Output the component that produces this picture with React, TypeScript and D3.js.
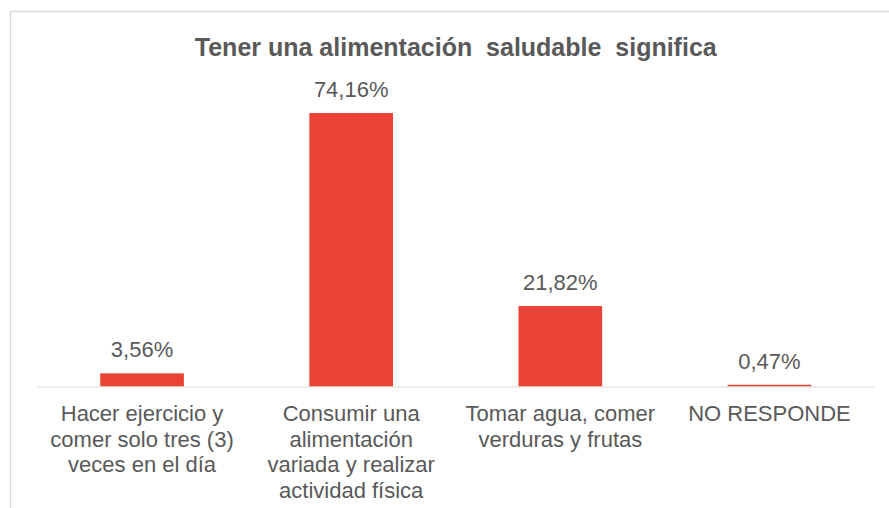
import React, { useEffect, useRef } from 'react';
import * as d3 from 'd3';

const categories = ['hacer', 'consumir', 'tomar', 'nr'];
const categoryLines = [
    ['Hacer ejercicio y', 'comer solo tres (3)', 'veces en el día'],
    ['Consumir una', 'alimentación', 'variada y realizar', 'actividad física'],
    ['Tomar agua, comer', 'verduras y frutas'],
    ['NO RESPONDE'],
];
const values = [3.56, 74.16, 21.82, 0.47];
const valueLabels = ['3,56%', '74,16%', '21,82%', '0,47%'];
const title = 'Tener una alimentación\u00a0 saludable\u00a0 significa';

const W = 889;
const H = 508;
const FONT = '"Liberation Sans", Arial, sans-serif';
const TEXT = '#595959';
const RED = '#EA4335';

const App = () => {
    const ref = useRef<SVGSVGElement | null>(null);

    useEffect(() => {
        const svg = d3.select(ref.current);
        svg.selectAll('*').remove();

        // chart area frame (cut off at right and bottom)
        svg.append('rect')
            .attr('x', 10.5)
            .attr('y', 11.5)
            .attr('width', 920)
            .attr('height', 540)
            .attr('fill', '#fff')
            .attr('stroke', '#D9D9D9')
            .attr('stroke-width', 1.5);

        const plot = { left: 37.5, right: 874, top: 91.5, bottom: 386.5 };

        const x = d3.scaleBand()
            .domain(categories)
            .range([plot.left, plot.right])
            .paddingInner(0.6)
            .paddingOuter(0.3);

        const y = d3.scaleLinear()
            .domain([0, 80])
            .range([plot.bottom, plot.top]);

        svg.append('text')
            .attr('x', (plot.left + plot.right) / 2)
            .attr('y', 56)
            .attr('text-anchor', 'middle')
            .attr('font-family', FONT)
            .attr('font-size', 25)
            .attr('font-weight', 'bold')
            .attr('fill', TEXT)
            .text(title);

        svg.selectAll('.bar')
            .data(values)
            .enter().append('rect')
            .attr('class', 'bar')
            .attr('x', (d, i) => x(categories[i])!)
            .attr('y', d => y(d))
            .attr('width', x.bandwidth())
            .attr('height', d => y(0) - y(d))
            .attr('fill', RED);

        svg.append('line')
            .attr('x1', plot.left)
            .attr('x2', plot.right)
            .attr('y1', plot.bottom + 0.5)
            .attr('y2', plot.bottom + 0.5)
            .attr('stroke', '#D9D9D9')
            .attr('stroke-width', 1);

        svg.selectAll('.value')
            .data(values)
            .enter().append('text')
            .attr('class', 'value')
            .attr('x', (d, i) => x(categories[i])! + x.bandwidth() / 2)
            .attr('y', d => y(d) - 16)
            .attr('text-anchor', 'middle')
            .attr('font-family', FONT)
            .attr('font-size', 22)
            .attr('fill', TEXT)
            .text((d, i) => valueLabels[i]);

        const labels = svg.selectAll('.cat')
            .data(categoryLines)
            .enter().append('text')
            .attr('class', 'cat')
            .attr('text-anchor', 'middle')
            .attr('font-family', FONT)
            .attr('font-size', 22)
            .attr('fill', TEXT);

        labels.each(function (lines, i) {
            const t = d3.select(this);
            lines.forEach((line, j) => {
                t.append('tspan')
                    .attr('x', x(categories[i])! + x.bandwidth() / 2)
                    .attr('y', 421 + j * 25.7)
                    .text(line);
            });
        });
    }, []);

    return (
        <svg
            ref={ref}
            width={W}
            height={H}
            style={{ position: 'absolute', left: 0, top: 0, background: '#fff' }}
        />
    );
};

export default App;
